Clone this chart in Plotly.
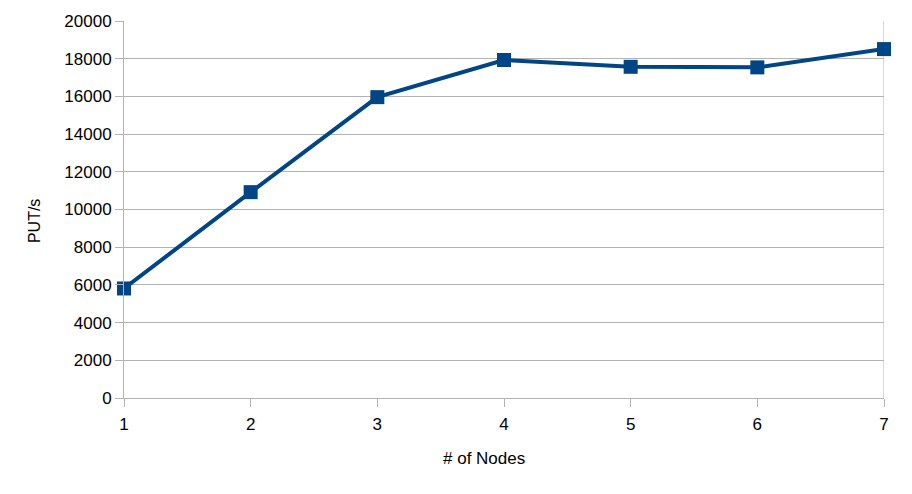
import plotly.graph_objects as go

nodes = [1, 2, 3, 4, 5, 6, 7]
put_per_s = [5810, 10920, 15960, 17930, 17570, 17540, 18510]
y_ticks = list(range(0, 20001, 2000))
x_title = "# of Nodes"
y_title = "PUT/s"

fig = go.Figure()
fig.add_trace(go.Scatter(
    x=nodes, y=put_per_s, mode="lines+markers",
    line=dict(color="#004586", width=4),
    marker=dict(symbol="square", size=14, color="#004586"),
    showlegend=False, cliponaxis=False,
))

fam = "Liberation Sans, Arial, sans-serif"
axis_font = dict(family=fam, size=17, color="#000000")
fig.update_layout(
    width=912, height=494,
    margin=dict(l=116, r=36, t=13, b=104, autoexpand=False),
    plot_bgcolor="white", paper_bgcolor="white",
    font=axis_font,
)
fig.update_xaxes(
    range=[1, 7], tickvals=nodes, ticktext=[str(n) for n in nodes],
    showgrid=False, showline=True, linecolor="#b3b3b3", linewidth=1,
    ticks="outside", ticklen=8, tickcolor="#b3b3b3",
    tickfont=axis_font, zeroline=False, ticklabelstandoff=3, automargin=False,
)
fig.update_yaxes(
    range=[0, 20000], tickvals=y_ticks, ticktext=[str(v) for v in y_ticks],
    showgrid=True, gridcolor="#b3b3b3", gridwidth=1,
    showline=True, linecolor="#b3b3b3", linewidth=1,
    ticks="outside", ticklen=8, tickcolor="#b3b3b3",
    tickfont=axis_font, zeroline=False, automargin=False,
)
fig.add_annotation(text=x_title, xref="paper", yref="paper", x=0.4737, y=-0.1618,
                   xanchor="center", yanchor="middle", showarrow=False,
                   font=dict(family=fam, size=17, color="#000000"))
fig.add_annotation(text=y_title, xref="paper", yref="paper", x=-0.117, y=0.4695,
                   xanchor="center", yanchor="middle", showarrow=False, textangle=-90,
                   font=dict(family=fam, size=16, color="#000000"))
fig.add_shape(type="line", xref="x", yref="paper", x0=7, x1=7, y0=0, y1=1,
              line=dict(color="#b3b3b3", width=1), layer="below")

fig.write_html("out.html")
